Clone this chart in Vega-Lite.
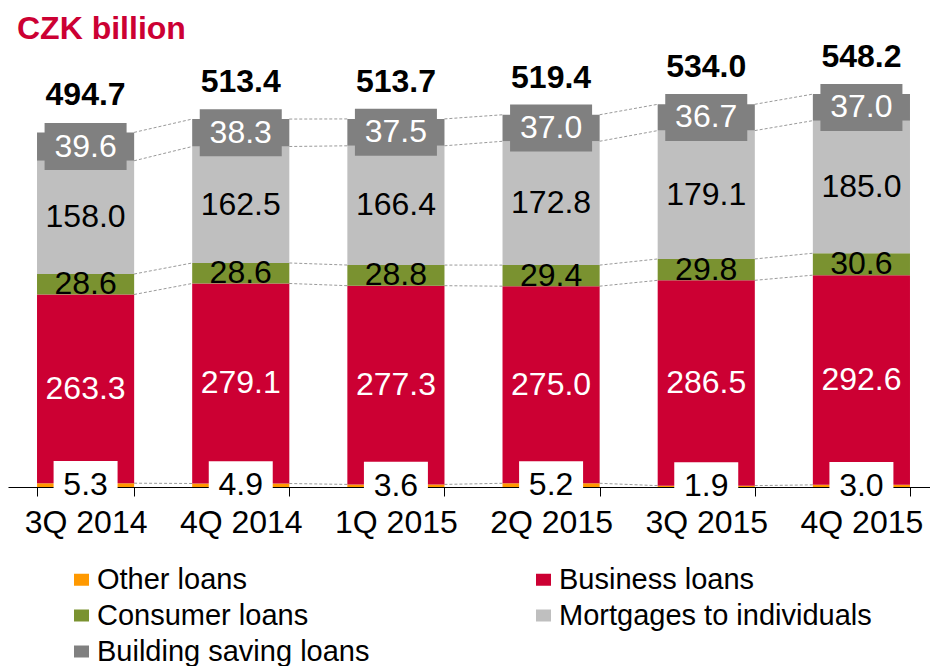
{
  "$schema": "https://vega.github.io/schema/vega-lite/v6.json",
  "width": 922,
  "height": 430,
  "autosize": "none",
  "padding": {"left": 8, "top": 57, "right": 0, "bottom": 179},
  "background": "white",
  "config": {
    "view": {"stroke": null},
    "font": "Liberation Sans",
    "legend": {"symbolStrokeWidth": 0}
  },
  "title": {
    "text": "CZK billion",
    "anchor": "start",
    "frame": "group",
    "dx": 9,
    "dy": 49,
    "offset": 19,
    "baseline": "alphabetic",
    "fontSize": 32,
    "font": "Liberation Sans",
    "fontWeight": "bold",
    "color": "#CC0033"
  },
  "datasets": {
    "loans": [
      {"quarter": "3Q 2014", "qi": 1, "series": "Other loans", "ord": 1, "value": 5.3},
      {"quarter": "3Q 2014", "qi": 1, "series": "Business loans", "ord": 2, "value": 263.3},
      {"quarter": "3Q 2014", "qi": 1, "series": "Consumer loans", "ord": 3, "value": 28.6},
      {"quarter": "3Q 2014", "qi": 1, "series": "Mortgages to individuals", "ord": 4, "value": 158.0},
      {"quarter": "3Q 2014", "qi": 1, "series": "Building saving loans", "ord": 5, "value": 39.6},
      {"quarter": "4Q 2014", "qi": 2, "series": "Other loans", "ord": 1, "value": 4.9},
      {"quarter": "4Q 2014", "qi": 2, "series": "Business loans", "ord": 2, "value": 279.1},
      {"quarter": "4Q 2014", "qi": 2, "series": "Consumer loans", "ord": 3, "value": 28.6},
      {"quarter": "4Q 2014", "qi": 2, "series": "Mortgages to individuals", "ord": 4, "value": 162.5},
      {"quarter": "4Q 2014", "qi": 2, "series": "Building saving loans", "ord": 5, "value": 38.3},
      {"quarter": "1Q 2015", "qi": 3, "series": "Other loans", "ord": 1, "value": 3.6},
      {"quarter": "1Q 2015", "qi": 3, "series": "Business loans", "ord": 2, "value": 277.3},
      {"quarter": "1Q 2015", "qi": 3, "series": "Consumer loans", "ord": 3, "value": 28.8},
      {"quarter": "1Q 2015", "qi": 3, "series": "Mortgages to individuals", "ord": 4, "value": 166.4},
      {"quarter": "1Q 2015", "qi": 3, "series": "Building saving loans", "ord": 5, "value": 37.5},
      {"quarter": "2Q 2015", "qi": 4, "series": "Other loans", "ord": 1, "value": 5.2},
      {"quarter": "2Q 2015", "qi": 4, "series": "Business loans", "ord": 2, "value": 275.0},
      {"quarter": "2Q 2015", "qi": 4, "series": "Consumer loans", "ord": 3, "value": 29.4},
      {"quarter": "2Q 2015", "qi": 4, "series": "Mortgages to individuals", "ord": 4, "value": 172.8},
      {"quarter": "2Q 2015", "qi": 4, "series": "Building saving loans", "ord": 5, "value": 37.0},
      {"quarter": "3Q 2015", "qi": 5, "series": "Other loans", "ord": 1, "value": 1.9},
      {"quarter": "3Q 2015", "qi": 5, "series": "Business loans", "ord": 2, "value": 286.5},
      {"quarter": "3Q 2015", "qi": 5, "series": "Consumer loans", "ord": 3, "value": 29.8},
      {"quarter": "3Q 2015", "qi": 5, "series": "Mortgages to individuals", "ord": 4, "value": 179.1},
      {"quarter": "3Q 2015", "qi": 5, "series": "Building saving loans", "ord": 5, "value": 36.7},
      {"quarter": "4Q 2015", "qi": 6, "series": "Other loans", "ord": 1, "value": 3.0},
      {"quarter": "4Q 2015", "qi": 6, "series": "Business loans", "ord": 2, "value": 292.6},
      {"quarter": "4Q 2015", "qi": 6, "series": "Consumer loans", "ord": 3, "value": 30.6},
      {"quarter": "4Q 2015", "qi": 6, "series": "Mortgages to individuals", "ord": 4, "value": 185.0},
      {"quarter": "4Q 2015", "qi": 6, "series": "Building saving loans", "ord": 5, "value": 37.0}
    ],
    "totals": [
      {"quarter": "3Q 2014", "total": 494.7},
      {"quarter": "4Q 2014", "total": 513.4},
      {"quarter": "1Q 2015", "total": 513.7},
      {"quarter": "2Q 2015", "total": 519.4},
      {"quarter": "3Q 2015", "total": 534.0},
      {"quarter": "4Q 2015", "total": 548.2}
    ]
  },
  "data": {"name": "loans"},
  "encoding": {
    "x": {
      "field": "quarter",
      "type": "nominal",
      "scale": {
        "domain": ["3Q 2014", "4Q 2014", "1Q 2015", "2Q 2015", "3Q 2015", "4Q 2015"],
        "range": [0, 931],
        "paddingInner": 0.374,
        "paddingOuter": 0.187
      },
      "axis": {
        "title": null,
        "labelAngle": 0,
        "labelFontSize": 32,
        "labelFont": "Liberation Sans",
        "labelColor": "#000000",
        "labelPadding": 11,
        "domainColor": "#000000",
        "domainWidth": 1,
        "tickColor": "#000000",
        "tickSize": 9,
        "tickBand": "extent",
        "labelLimit": 300
      }
    }
  },
  "layer": [
    {
      "transform": [
        {"stack": "value", "groupby": ["quarter"], "sort": [{"field": "ord", "order": "ascending"}], "as": ["s0", "s1"]},
        {"window": [{"op": "lead", "field": "s1", "as": "s1n"}, {"op": "lead", "field": "quarter", "as": "qn"}], "groupby": ["series"], "sort": [{"field": "qi", "order": "ascending"}]},
        {"filter": "datum.qn != null"}
      ],
      "mark": {"type": "rule", "xOffset": 48.5, "x2Offset": -48.5, "stroke": "#9A9A9A", "strokeWidth": 1, "strokeDash": [3, 2]},
      "encoding": {
        "x2": {"field": "qn"},
        "y": {"field": "s1", "type": "quantitative", "scale": {"domain": [0, 600], "nice": false, "zero": true}, "axis": null},
        "y2": {"field": "s1n"}
      }
    },
    {
      "mark": {"type": "bar"},
      "encoding": {
        "y": {"field": "value", "type": "quantitative", "stack": "zero", "scale": {"domain": [0, 600], "nice": false, "zero": true}, "axis": null},
        "order": {"field": "ord", "type": "quantitative", "sort": "ascending"},
        "color": {
          "field": "series",
          "type": "nominal",
          "scale": {
            "domain": ["Other loans", "Business loans", "Consumer loans", "Mortgages to individuals", "Building saving loans"],
            "range": ["#FF9900", "#CC0033", "#7A9230", "#BFBFBF", "#808080"]
          },
          "legend": {
            "title": null,
            "orient": "none",
            "legendX": 59,
            "legendY": 508,
            "direction": "horizontal",
            "columns": 2,
            "columnPadding": 159,
            "rowPadding": 6,
            "padding": 0,
            "labelFontSize": 29,
            "labelFont": "Liberation Sans",
            "labelColor": "#000000",
            "labelLimit": 500,
            "labelOffset": 1,
            "symbolType": "M-1,-0.8L1,-0.8L1,0.8L-1,0.8Z",
            "symbolSize": 225,
            "symbolStrokeWidth": 0,
            "symbolOpacity": 1
          }
        }
      }
    },
    {
      "mark": {"type": "point", "shape": "M-1.745,-1L1.745,-1L1.745,1L-1.745,1Z", "filled": true, "size": 2209, "fill": "#808080", "strokeWidth": 0},
      "encoding": {
        "y": {"field": "value", "type": "quantitative", "stack": "zero", "bandPosition": 0.5, "scale": {"domain": [0, 600], "nice": false, "zero": true}, "axis": null},
        "order": {"field": "ord", "type": "quantitative", "sort": "ascending"},
        "detail": {"field": "series", "type": "nominal"},
        "opacity": {"condition": {"test": "datum.series === 'Building saving loans'", "value": 1}, "value": 0}
      }
    },
    {
      "mark": {"type": "point", "shape": "M-1.333,-1L1.333,-1L1.333,1L-1.333,1Z", "filled": true, "size": 2304, "fill": "#FFFFFF", "strokeWidth": 0},
      "encoding": {
        "y": {"field": "value", "type": "quantitative", "stack": "zero", "bandPosition": 0.5, "scale": {"domain": [0, 600], "nice": false, "zero": true}, "axis": null},
        "order": {"field": "ord", "type": "quantitative", "sort": "ascending"},
        "detail": {"field": "series", "type": "nominal"},
        "opacity": {"condition": {"test": "datum.series === 'Other loans'", "value": 1}, "value": 0}
      }
    },
    {
      "mark": {"type": "text", "fontSize": 32, "font": "Liberation Sans", "baseline": "middle", "align": "center"},
      "encoding": {
        "y": {"field": "value", "type": "quantitative", "stack": "zero", "bandPosition": 0.5, "scale": {"domain": [0, 600], "nice": false, "zero": true}, "axis": null},
        "order": {"field": "ord", "type": "quantitative", "sort": "ascending"},
        "detail": {"field": "series", "type": "nominal"},
        "text": {"field": "value", "type": "quantitative", "format": ".1f"},
        "color": {"condition": {"test": "datum.series === 'Business loans' || datum.series === 'Building saving loans'", "value": "#FFFFFF"}, "value": "#000000"}
      }
    },
    {
      "data": {"name": "totals"},
      "mark": {"type": "text", "fontSize": 32, "font": "Liberation Sans", "fontWeight": "bold", "baseline": "alphabetic", "align": "center", "dy": -27, "color": "#000000"},
      "encoding": {
        "y": {"field": "total", "type": "quantitative", "scale": {"domain": [0, 600], "nice": false, "zero": true}, "axis": null},
        "text": {"field": "total", "type": "quantitative", "format": ".1f"}
      }
    }
  ]
}
